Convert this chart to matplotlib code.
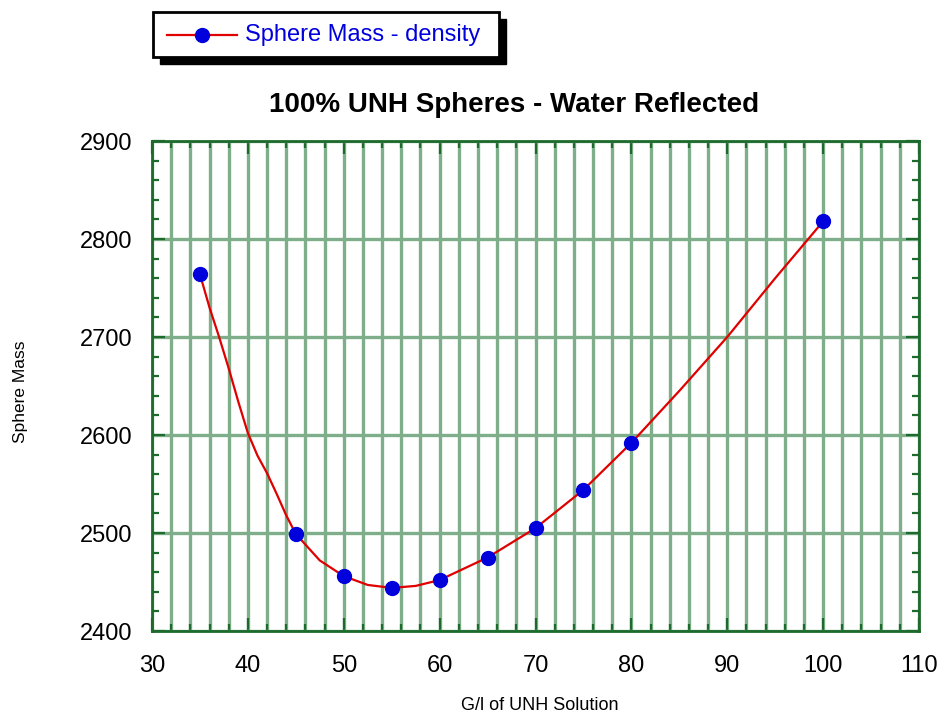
import numpy as np
import matplotlib.pyplot as plt
from matplotlib.ticker import MultipleLocator
import matplotlib.patches as mpatches

# data points (markers)
density = [35, 45, 50, 55, 60, 65, 70, 75, 80, 100]
mass = [2764, 2499, 2456, 2444, 2452, 2475, 2505, 2544, 2592, 2818]

# smooth curve
curve_x = [35, 36, 37, 38, 39, 40, 41, 42, 43, 44, 45, 47.5, 50, 52.5, 55, 57.5, 60,
           65, 70, 75, 80, 85, 90, 95, 100]
curve_y = [2764, 2730, 2700, 2668, 2634, 2602, 2579, 2561, 2540, 2518, 2499, 2472, 2456,
           2447, 2444, 2446, 2452, 2475, 2505, 2544, 2592, 2645, 2700, 2760, 2818]

plt.rcParams['font.family'] = ['Liberation Sans', 'DejaVu Sans']

green = '#1c6a2c'
gridc = '#7fae8a'

fig = plt.figure(figsize=(9.46, 7.15), dpi=100)
ax = fig.add_axes([152/946, 1-631/715, (919-152)/946, (631-141)/715])

ax.plot(curve_x, curve_y, color='#e00000', lw=1.6, zorder=3)
ax.plot(density, mass, 'o', color='#0000dd', ms=10, zorder=4)

ax.set_xlim(30, 110)
ax.set_ylim(2400, 2900)
ax.xaxis.set_major_locator(MultipleLocator(10))
ax.xaxis.set_minor_locator(MultipleLocator(2))
ax.yaxis.set_major_locator(MultipleLocator(100))
ax.yaxis.set_minor_locator(MultipleLocator(20))

ax.grid(which='both', axis='x', color=gridc, lw=2.4, zorder=1)
ax.grid(which='major', axis='y', color=gridc, lw=2.4, zorder=1)
ax.set_axisbelow(True)

for s in ax.spines.values():
    s.set_color(green)
    s.set_linewidth(2)

ax.tick_params(which='both', direction='in', top=True, right=True, color=green, width=1.6)
ax.tick_params(which='major', length=9.5, labelsize=17)
ax.tick_params(axis='x', which='major', pad=17)
ax.tick_params(axis='y', which='major', pad=14)
ax.tick_params(which='minor', length=5)

fig.text(514/946, 1-105/715, '100% UNH Spheres - Water Reflected', ha='center', va='center',
         fontsize=20, fontweight='bold')
fig.text(20/946, 1-392/715, 'Sphere Mass', rotation=90, ha='center', va='center', fontsize=12.5)
fig.text(540/946, 1-705/715, 'G/l of UNH Solution', ha='center', va='center', fontsize=13)

# legend box with black drop shadow
x0, y0, w, h = 153/946, 1-57/715, 346/946, 45/715
fig.patches.append(mpatches.Rectangle((x0+7/946, y0-7/715), w, h, transform=fig.transFigure,
                                      facecolor='black', edgecolor='black', zorder=1))
fig.patches.append(mpatches.Rectangle((x0, y0), w, h, transform=fig.transFigure,
                                      facecolor='white', edgecolor='black', lw=2, zorder=2))
ly = 1-35/715
fig.lines.append(plt.Line2D([167/946, 237/946], [ly, ly], transform=fig.transFigure,
                            color='#e00000', lw=1.6, zorder=3))
fig.lines.append(plt.Line2D([202/946], [ly], transform=fig.transFigure, marker='o',
                            color='#0000dd', ms=10, zorder=4))
fig.text(245/946, ly, 'Sphere Mass - density', color='#0000dd', fontsize=17, va='center', ha='left')

fig.savefig('out.png', dpi=100)
